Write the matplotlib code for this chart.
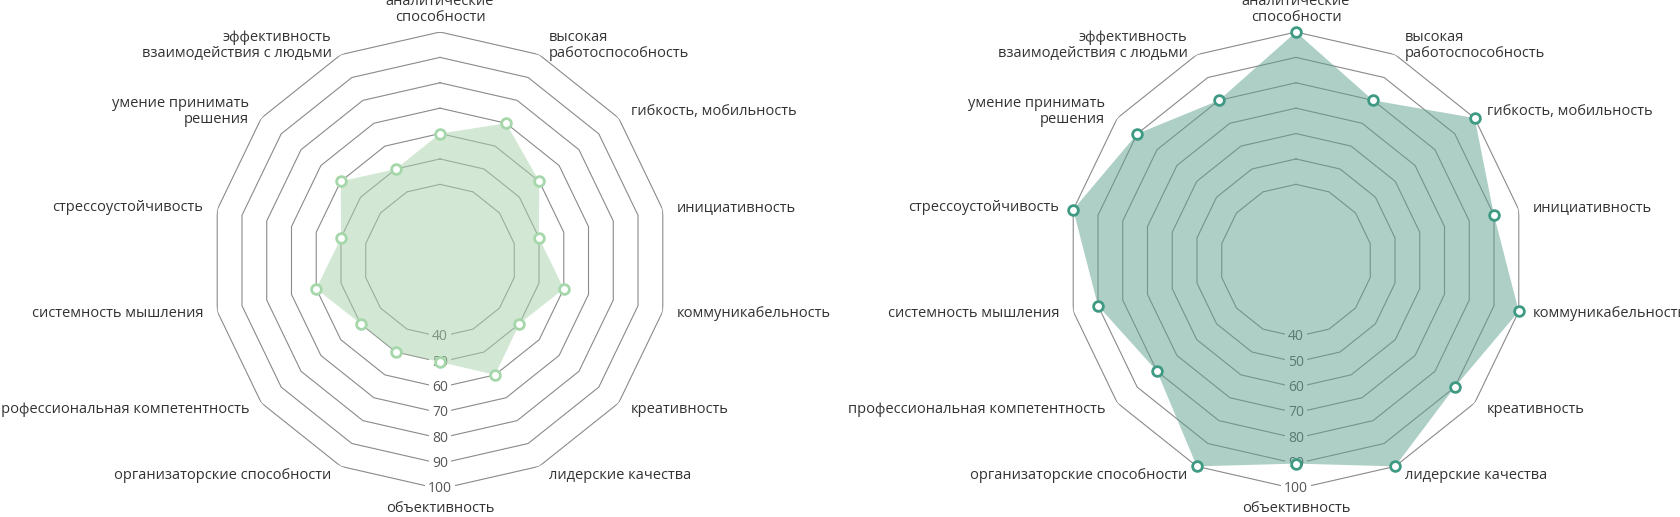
import matplotlib.pyplot as plt
import numpy as np

categories = ['аналитические\nспособности', 'высокая\nработоспособность',
              'гибкость, мобильность', 'инициативность', 'коммуникабельность',
              'креативность', 'лидерские качества', 'объективность',
              'организаторские способности', 'профессиональная компетентность',
              'системность мышления', 'стрессоустойчивость',
              'умение принимать\nрешения', 'эффективность\nвзаимодействия с людьми']
levels = [40, 50, 60, 70, 80, 90, 100]
left_values = [60, 70, 60, 50, 60, 50, 60, 50, 50, 50, 60, 50, 60, 50]
right_values = [100, 80, 100, 90, 100, 90, 100, 90, 100, 80, 90, 100, 90, 80]

plt.rcParams['font.family'] = ['Open Sans', 'DejaVu Sans']

fig = plt.figure(figsize=(16.8, 5.17), dpi=100)

n = len(categories)
angles = np.arange(n) * 2 * np.pi / n
closed = np.append(angles, angles[0])


def radar(rect, values, fill_color, marker_color):
    ax = fig.add_axes(rect, projection='polar')
    ax.set_theta_zero_location('N')
    ax.set_theta_direction(-1)
    ax.set_ylim(10, 100)
    ax.set_xticks([])
    ax.set_yticks([])
    ax.grid(False)
    ax.spines['polar'].set_visible(False)
    ax.patch.set_alpha(0)

    # rings
    for lv in levels:
        ax.plot(closed, [lv] * (n + 1), color='#8a8a8a', lw=0.8, zorder=1)
        ax.text(np.pi, lv, str(lv), ha='center', va='center', fontsize=10,
                color='#555555', zorder=2,
                bbox=dict(boxstyle='square,pad=0.25', fc='white', ec='none'))

    vals = list(values) + [values[0]]
    ax.fill(closed, vals, color=fill_color, alpha=0.5, lw=0, zorder=3)
    ax.plot(angles, values, 'o', ms=7, mfc='white', mec=marker_color,
            mew=2, zorder=4, clip_on=False)

    # category labels
    for a, lab in zip(angles, categories):
        s, c = np.sin(a), np.cos(a)
        if abs(s) < 0.01:
            ha = 'center'
            va = 'bottom' if c > 0 else 'top'
            off = (0, 7 if c > 0 else -12)
        else:
            ha = 'left' if s > 0 else 'right'
            va = 'center'
            off = (s * 8 + np.sign(s) * 6, c * 10)
        ax.annotate(lab, xy=(a, 100), xytext=off, textcoords='offset pixels',
                    ha=ha, va=va, fontsize=10.5, color='#333333',
                    linespacing=1.1, annotation_clip=False)
    return ax


radar([211.5 / 1680, 28 / 517, 457 / 1680, 457 / 517], left_values,
      '#a7d3ab', '#a5d7aa')
radar([1067.5 / 1680, 28 / 517, 457 / 1680, 457 / 517], right_values,
      '#5da08f', '#3f9a83')

plt.savefig('out.png', dpi=100)
